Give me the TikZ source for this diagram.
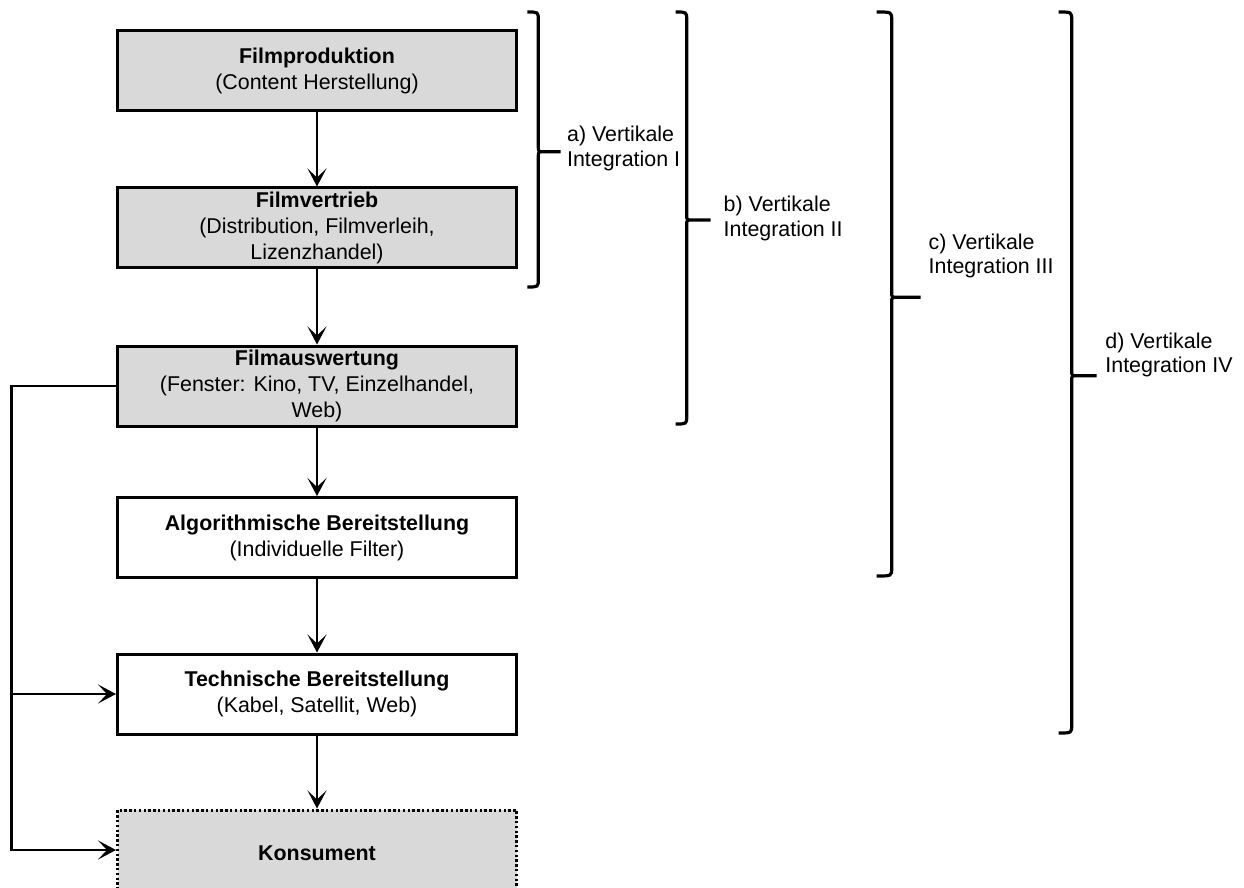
\documentclass[tikz,border=0pt]{standalone}
\usepackage{fontspec}
\setmainfont{Liberation Sans}
\usetikzlibrary{arrows.meta,positioning,calc}

\begin{document}
\begin{tikzpicture}[x=0.5pt, y=-0.5pt,
    stufe/.style={draw, line width=1.5pt, minimum width=199.5pt, minimum height=40pt,
        inner xsep=1pt, inner ysep=0pt, align=center, font=\fontsize{10.7}{13}\selectfont,
        execute at begin node={\rule{0pt}{10.8pt}}},
    grau/.style={stufe, fill=black!15},
    pfeil/.style={line width=1.4pt, -{Stealth[length=9pt, width=9.5pt, inset=4.5pt]}},
    klammer/.style={line width=1.6pt},
    etikett/.style={anchor=west, align=left, inner sep=0pt, font=\fontsize{10.7}{12.4}\selectfont}]
    \useasboundingbox (0,0) rectangle (1244,888);

    % Stufen der Wertschoepfung
    \node[grau] (prod) at (317,71) {\textbf{Filmproduktion}\\(Content Herstellung)};
    \node[grau] (vertrieb) at (317,228) {\textbf{Filmvertrieb}\\(Distribution, Filmverleih,\\Lizenzhandel)};
    \node[grau] (auswert) at (317,386) {\textbf{Filmauswertung}\\(Fenster: Kino, TV, Einzelhandel,\\Web)};
    \node[stufe] (algo) at (317,537.5) {\textbf{Algorithmische Bereitstellung}\\(Individuelle Filter)};
    \node[stufe] (technik) at (317,694) {\textbf{Technische Bereitstellung}\\(Kabel, Satellit, Web)};
    \node[grau, dash pattern=on 1.2pt off 1.2pt] (konsum) at (317,850) {\textbf{Konsument}};

    % Pfeile
    \draw[pfeil] (prod) -- (vertrieb);
    \draw[pfeil] (vertrieb) -- (auswert);
    \draw[pfeil] (auswert) -- (algo);
    \draw[pfeil] (algo) -- (technik);
    \draw[pfeil] (technik) -- (konsum);

    % Umgehung links
    \coordinate (knick) at (11.7,386);
    \draw[pfeil] (auswert.west) -- (knick) |- (konsum.west);
    \draw[pfeil] (knick |- technik.west) -- (technik.west);

    % Klammern
    \foreach \bx/\bo/\bu/\bs/\bl/\hk in {538.3/12/287/151.7/560.7/11,
        686.7/12/424/220/710.7/11, 891.7/12/576/297.3/920.7/15,
        1071.7/12/733/375.7/1096.7/13}
        \draw[klammer] (\bx-\hk,\bo) .. controls (\bx,\bo) .. (\bx,\bo+8)
            -- (\bx,\bs-5) .. controls (\bx,\bs) .. (\bx+6,\bs) -- (\bl,\bs)
            (\bx+6,\bs) .. controls (\bx,\bs) .. (\bx,\bs+5)
            -- (\bx,\bu-8) .. controls (\bx,\bu) .. (\bx-\hk,\bu);

    % Integrationsstufen
    \node[etikett] (intA) at (566.7,148.5) {a) Vertikale\\Integration I};
    \node[etikett] (intB) at (723.3,218.5) {b) Vertikale\\Integration II};
    \node[etikett] (intC) at (928.3,256) {c) Vertikale\\Integration III};
    \node[etikett] (intD) at (1105,355) {d) Vertikale\\Integration IV};
\end{tikzpicture}
\end{document}
